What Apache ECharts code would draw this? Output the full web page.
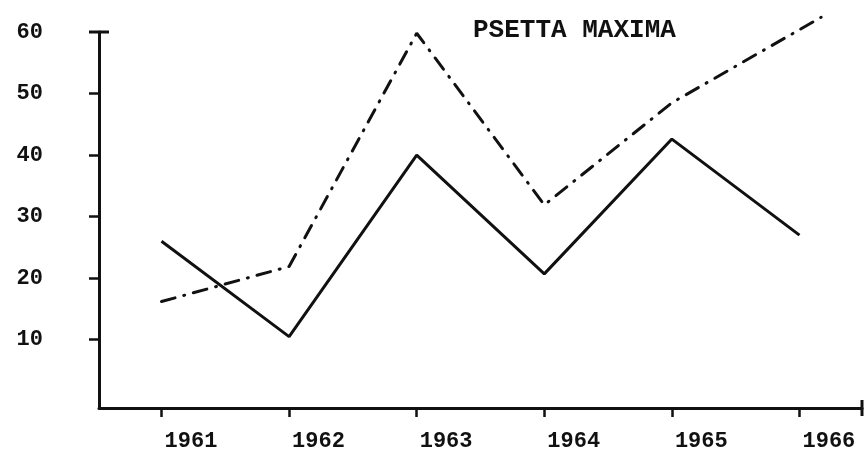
<!DOCTYPE html>
<html>
<head>
<meta charset="utf-8">
<script src="https://cdn.jsdelivr.net/npm/echarts@6/dist/echarts.min.js"></script>
<style>
  html, body { margin: 0; padding: 0; background: #fff; }
  #main { width: 866px; height: 466px; }
</style>
</head>
<body>
<div id="main"></div>
<script>
// data
var years = [1961, 1962, 1963, 1964, 1965, 1966];
var solidValues = [26, 10.5, 40, 20.7, 42.6, 27];
// dash-dot line runs a little past 1966
var dashYears = [1961, 1962, 1963, 1964, 1965, 1966.17];
var dashValues = [16.2, 21.9, 59.8, 31.9, 48.5, 62.4];
var yTicks = [10, 20, 30, 40, 50, 60];
var title = 'PSETTA MAXIMA';

var ink = '#111';
var font = 'Liberation Mono';

var chart = echarts.init(document.getElementById('main'), null, { renderer: 'canvas' });

chart.setOption({
  backgroundColor: '#fff',
  animation: false,
  title: {
    text: title,
    left: 468,
    top: 12,
    textStyle: { fontFamily: font, fontWeight: 'bold', fontSize: 26, color: ink }
  },
  grid: { left: 99, right: 4, top: 32, bottom: 58 },
  xAxis: {
    type: 'value',
    min: 1960.51,
    max: 1966.49,
    splitLine: { show: false },
    axisLine: {
      onZero: false,
      lineStyle: { color: ink, width: 3 },
      symbol: ['none', 'rect'],
      symbolSize: [16, 3]
    },
    axisTick: {
      customValues: years,
      length: 9,
      lineStyle: { color: ink, width: 2.5 }
    },
    axisLabel: {
      customValues: years,
      align: 'left',
      padding: [0, 0, 0, 3],
      margin: 22,
      fontFamily: font,
      fontWeight: 'bold',
      fontSize: 22,
      color: ink,
      formatter: function (v) { return String(v); }
    }
  },
  yAxis: {
    type: 'value',
    min: -1.1,
    max: 60,
    splitLine: { show: false },
    axisLine: {
      show: true,
      onZero: false,
      lineStyle: { color: ink, width: 3 },
      symbol: ['none', 'rect'],
      symbolSize: [20, 3]
    },
    axisTick: {
      show: true,
      customValues: yTicks.slice(0, 5),
      length: 10,
      lineStyle: { color: ink, width: 2.5 }
    },
    axisLabel: {
      customValues: yTicks,
      margin: 56,
      fontFamily: font,
      fontWeight: 'bold',
      fontSize: 22,
      color: ink
    }
  },
  series: [
    {
      type: 'line',
      data: years.map(function (y, i) { return [y, solidValues[i]]; }),
      symbol: 'none',
      lineStyle: { color: ink, width: 3 }
    },
    {
      type: 'line',
      clip: false,
      data: dashYears.map(function (y, i) { return [y, dashValues[i]]; }),
      symbol: 'none',
      lineStyle: { color: ink, width: 3, type: [14, 9, 1, 9], cap: 'round' }
    }
  ]
});
</script>
</body>
</html>
